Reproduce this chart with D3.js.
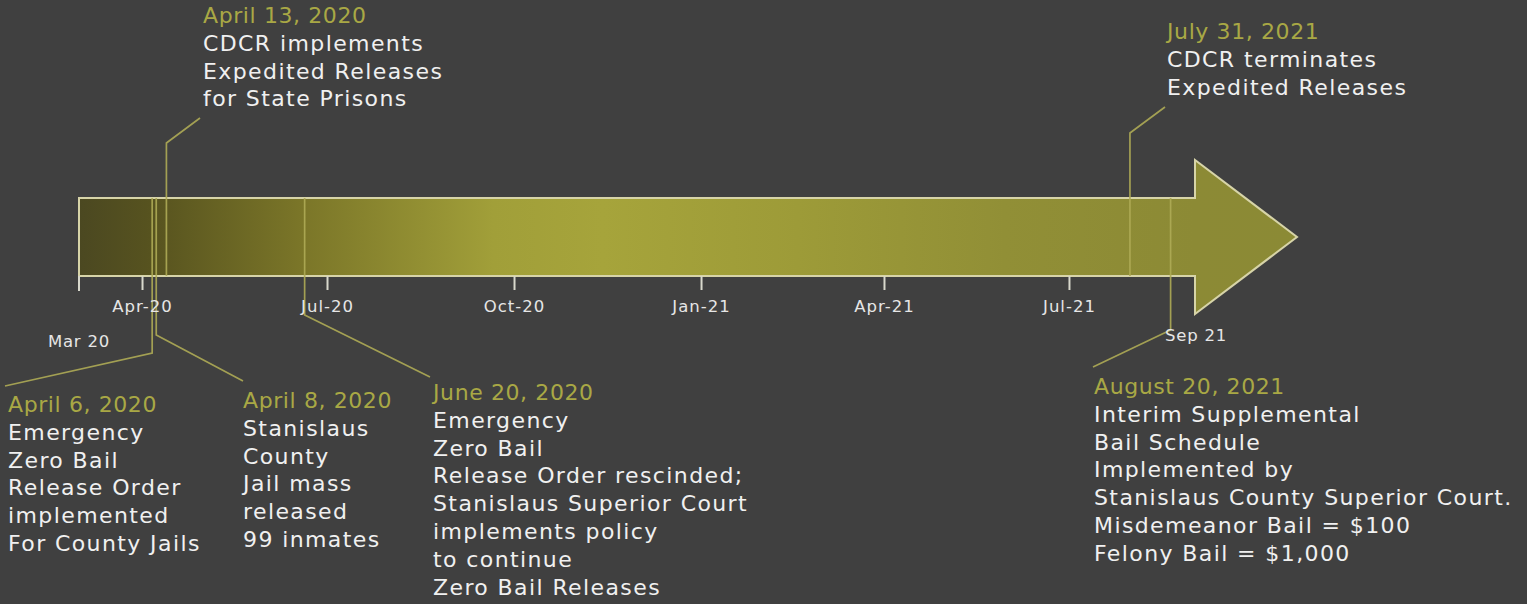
<!DOCTYPE html>
<html>
<head>
<meta charset="utf-8">
<script src="https://cdn.jsdelivr.net/npm/d3@7"></script>
<style>
  html, body { margin: 0; padding: 0; background: #404040; }
  svg { display: block; }
</style>
</head>
<body>
<svg id="chart" width="1527" height="604"></svg>
<script>
// ---- data ----
const domainDates = ["2020-03-01", "2021-09-01"];
const endLabels = ["Mar 20", "Sep 21"];
const tickDates = ["2020-04-01", "2020-07-01", "2020-10-01", "2021-01-01", "2021-04-01", "2021-07-01"];
const eventDates = ["2020-04-06", "2020-04-08", "2020-04-13", "2020-06-20", "2021-07-31", "2021-08-20"];
const eventTitles = ["April 6, 2020", "April 8, 2020", "April 13, 2020", "June 20, 2020", "July 31, 2021", "August 20, 2021"];
const eventTexts = [
  ["Emergency", "Zero Bail", "Release Order", "implemented", "For County Jails"],
  ["Stanislaus", "County", "Jail mass", "released", "99 inmates"],
  ["CDCR implements", "Expedited Releases", "for State Prisons"],
  ["Emergency", "Zero Bail", "Release Order rescinded;", "Stanislaus Superior Court", "implements policy", "to continue", "Zero Bail Releases"],
  ["CDCR terminates", "Expedited Releases"],
  ["Interim Supplemental", "Bail Schedule", "Implemented by", "Stanislaus County Superior Court.", "Misdemeanor Bail = $100", "Felony Bail = $1,000"]
];

// ---- layout (not data) ----
const bodyTop = 198, bodyBottom = 276, headTop = 160, headBottom = 314, tipX = 1297, tipY = 237;
const labelLayout = [
  { from: "top",    elbowY: 353, endX: 5,    endY: 386, tx: 8,    ty: 404 },
  { from: "top",    elbowY: 335, endX: 243,  endY: 381, tx: 243,  ty: 400 },
  { from: "bottom", elbowY: 143, endX: 200,  endY: 118, tx: 203,  ty: 15 },
  { from: "top",    elbowY: 315, endX: 430,  endY: 377, tx: 433,  ty: 392 },
  { from: "bottom", elbowY: 133, endX: 1165, endY: 107, tx: 1167, ty: 31 },
  { from: "top",    elbowY: 330, endX: 1093, endY: 367, tx: 1094, ty: 386 }
];
const lineH = 27.8;

const parse = d3.utcParse("%Y-%m-%d");
const svg = d3.select("#chart");

const x = d3.scaleUtc().domain(domainDates.map(parse)).range([79, 1195]);

// gradient
const defs = svg.append("defs");
const grad = defs.append("linearGradient").attr("id", "arrowGrad")
  .attr("gradientUnits", "userSpaceOnUse")
  .attr("x1", 79).attr("x2", tipX).attr("y1", 0).attr("y2", 0);
[[0, "#4b4821"], [0.06, "#57531f"], [0.18, "#7a7528"], [0.34, "#a19f39"], [0.43, "#a6a43b"],
 [0.59, "#9d9b38"], [0.76, "#918f36"], [0.916, "#8c8a35"], [1, "#8b8a35"]]
  .forEach(([o, c]) => grad.append("stop").attr("offset", o).attr("stop-color", c));

// arrow
const x0 = x.range()[0], x1 = x.range()[1];
const arrowPts = [[x0, bodyTop], [x1, bodyTop], [x1, headTop], [tipX, tipY], [x1, headBottom], [x1, bodyBottom], [x0, bodyBottom]];
svg.append("path")
  .attr("d", d3.line()(arrowPts) + "Z")
  .attr("fill", "url(#arrowGrad)")
  .attr("stroke", "#d7d4a8")
  .attr("stroke-width", 2)
  .attr("stroke-linejoin", "miter");

// leader lines
const dates = eventDates.map(parse);
svg.append("g").selectAll("path").data(labelLayout).join("path")
  .attr("d", (l, i) => {
    const ex = x(dates[i]);
    const sy = l.from === "top" ? bodyTop : bodyBottom;
    return d3.line()([[ex, sy], [ex, l.elbowY], [l.endX, l.endY]]);
  })
  .attr("fill", "none")
  .attr("stroke", "#aeab55")
  .attr("stroke-opacity", 0.9)
  .attr("stroke-width", 1.7);

// axis
const axis = d3.axisBottom(x)
  .tickValues(tickDates.map(parse))
  .tickFormat(d3.utcFormat("%b-%y"))
  .tickSize(14)
  .tickSizeOuter(0)
  .tickPadding(10);
const gAxis = svg.append("g").attr("transform", `translate(0,${bodyBottom})`).call(axis);
gAxis.select(".domain").remove();
gAxis.selectAll(".tick line").attr("stroke", "#d8d8cc").attr("stroke-width", 2);
gAxis.selectAll(".tick text")
  .attr("fill", "#e6e6e6")
  .style("font-family", "'DejaVu Sans', sans-serif")
  .style("font-size", "16.5px")
  .style("letter-spacing", "1px");

// left end tick
svg.append("line").attr("x1", x0).attr("x2", x0).attr("y1", bodyBottom).attr("y2", bodyBottom + 15)
  .attr("stroke", "#d8d8cc").attr("stroke-width", 2);

// end labels
svg.append("text").attr("x", x0).attr("y", 347).attr("text-anchor", "middle")
  .attr("fill", "#e6e6e6").style("font-family", "'DejaVu Sans', sans-serif")
  .style("font-size", "16.5px").style("letter-spacing", "0.8px").text(endLabels[0]);
svg.append("text").attr("x", x1 + 1).attr("y", 341).attr("text-anchor", "middle")
  .attr("fill", "#e6e6e6").style("font-family", "'DejaVu Sans', sans-serif")
  .style("font-size", "16.5px").style("letter-spacing", "0.8px").text(endLabels[1]);

// event labels
const gLab = svg.append("g")
  .style("font-family", "'DejaVu Sans', sans-serif")
  .style("font-size", "22px")
  .style("letter-spacing", "1.4px");
labelLayout.forEach((l, i) => {
  const t = gLab.append("text").attr("x", l.tx).attr("y", l.ty + 8);
  t.append("tspan").attr("x", l.tx).attr("fill", "#a9a845").style("letter-spacing", "0.6px").text(eventTitles[i]);
  eventTexts[i].forEach((line, j) => {
    t.append("tspan").attr("x", l.tx).attr("dy", lineH).attr("fill", "#f0f0f0").text(line);
  });
});
</script>
</body>
</html>
